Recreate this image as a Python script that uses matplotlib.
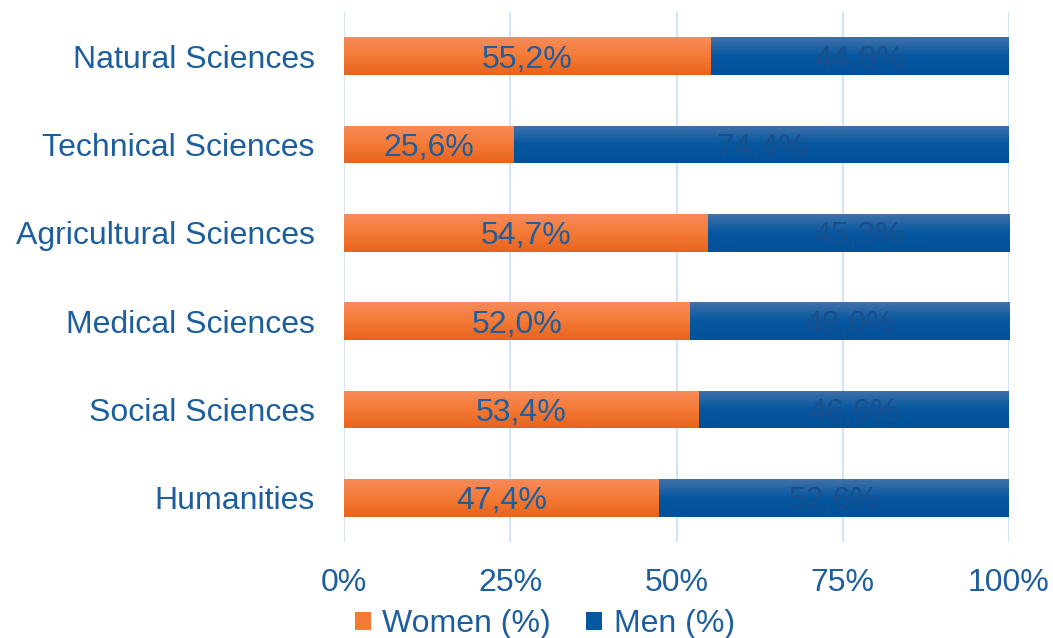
import matplotlib
matplotlib.use('Agg')
import matplotlib.pyplot as plt
from matplotlib.colors import LinearSegmentedColormap
import numpy as np

plt.rcParams['font.family'] = ['Liberation Sans', 'DejaVu Sans']

categories = ['Natural Sciences', 'Technical Sciences', 'Agricultural Sciences',
              'Medical Sciences', 'Social Sciences', 'Humanities']
women = [55.2, 25.6, 54.7, 52.0, 53.4, 47.4]
men = [44.8, 74.4, 45.3, 48.0, 46.6, 52.6]
xticks = [0, 25, 50, 75, 100]

text_blue = '#1d5e9e'
orange_cmap = LinearSegmentedColormap.from_list('o', ['#e8631d', '#f47a36', '#f88b5b'])
blue_cmap = LinearSegmentedColormap.from_list('b', ['#00519a', '#0557a0', '#4071a9'])
grad = np.linspace(0, 1, 64).reshape(-1, 1)

fig = plt.figure(figsize=(10.53, 6.38), dpi=100)
ax = fig.add_axes([344 / 1053, 1 - 542 / 638, 665 / 1053, 530 / 638])

y = np.arange(len(categories))
h = 0.43
bw = ax.barh(y, women, height=h, color='#f47a36', label='Women (%)', zorder=2)
bm = ax.barh(y, men, left=women, height=h, color='#0557a0', label='Men (%)', zorder=2)

# gradient fill clipped to each bar
for bars, cmap in ((bw, orange_cmap), (bm, blue_cmap)):
    for p in bars:
        x0, y0 = p.get_x(), p.get_y()
        im = ax.imshow(grad, cmap=cmap, aspect='auto', origin='lower',
                       extent=[x0, x0 + p.get_width(), y0 + p.get_height(), y0],
                       zorder=3, interpolation='bilinear')
        im.set_clip_path(p)

ax.set_xlim(0, 100)
ax.set_ylim(len(categories) - 0.5, -0.5)

for i in range(len(categories)):
    ax.text(women[i] / 2, y[i], f'{women[i]:.1f}%'.replace('.', ','),
            ha='center', va='center_baseline', fontsize=23, color=text_blue, zorder=4)
    ax.text(women[i] + men[i] / 2, y[i], f'{men[i]:.1f}%'.replace('.', ','),
            ha='center', va='center_baseline', fontsize=23, color='#1a4f8c', zorder=4)

ax.set_yticks(y)
ax.set_yticklabels(categories)
ax.set_xticks(xticks)
ax.set_xticklabels([f'{t}%' for t in xticks])
ax.tick_params(axis='both', length=0, labelsize=23, colors=text_blue)
ax.tick_params(axis='y', pad=21)
ax.tick_params(axis='x', pad=19)
for s in ax.spines.values():
    s.set_visible(False)
ax.grid(axis='x', color='#d2e5f8', linewidth=1.5, zorder=0)
ax.set_axisbelow(True)

fig.legend(handles=[bw, bm], loc='lower center', bbox_to_anchor=(545 / 1053, -0.047),
           ncol=2, frameon=False, fontsize=23, labelcolor=text_blue,
           handlelength=0.5, handleheight=0.5, handletextpad=0.35, columnspacing=1.1)

plt.savefig('out.png', dpi=100)
plt.close(fig)
